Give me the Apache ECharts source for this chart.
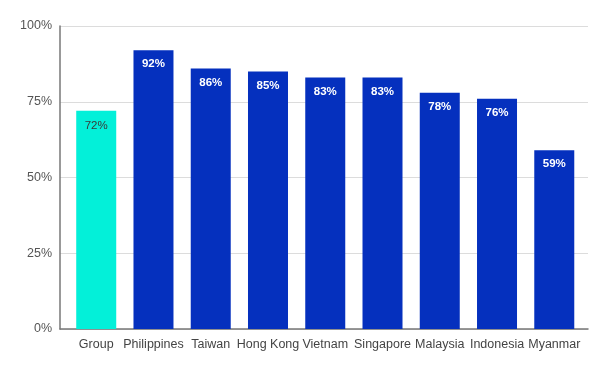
<!DOCTYPE html>
<html><head><meta charset="utf-8">
<script src="https://cdn.jsdelivr.net/npm/echarts@6/dist/echarts.min.js"></script>
<style>html,body{margin:0;padding:0;background:#fff}#c{width:600px;height:368px}</style>
</head><body><div id="c"></div>
<script>
const categories = ["Group","Philippines","Taiwan","Hong Kong","Vietnam","Singapore","Malaysia","Indonesia","Myanmar"];
const values = [72,92,86,85,83,83,78,76,59];
const yTicks = [0,25,50,75,100];
const groupColor = "#03F0D9";
const countryColor = "#0530BE";

const chart = echarts.init(document.getElementById('c'));
const font = "Arial, 'Liberation Sans', sans-serif";
chart.setOption({
  animation:false,
  grid:[
    {left:60, right:12, top:26, bottom:39},
    {left:67.6, width:515.3, top:26, bottom:39}
  ],
  xAxis:[
    {gridIndex:0, type:'value', min:0, max:1, show:true,
     axisLine:{show:true, onZero:false, lineStyle:{color:'#777', width:1.5}},
     axisTick:{show:false}, axisLabel:{show:false}, splitLine:{show:false}},
    {gridIndex:1, type:'category', data:categories,
     axisLine:{show:false}, axisTick:{show:false},
     axisLabel:{color:'#444', fontSize:12.5, fontFamily:font, margin:9, interval:0, hideOverlap:false}}
  ],
  yAxis:[
    {gridIndex:0, type:'value', min:yTicks[0], max:yTicks[yTicks.length-1], interval:25,
     axisLine:{show:true, lineStyle:{color:'#777', width:1.5}},
     axisTick:{show:false},
     axisLabel:{color:'#555', fontSize:12.5, fontFamily:font, margin:8, formatter:v=>v+'%'},
     splitLine:{lineStyle:{color:'#dcdcdc', width:1}}},
    {gridIndex:1, type:'value', min:0, max:100, show:false}
  ],
  series:[{
    type:'bar', xAxisIndex:1, yAxisIndex:1, barWidth:40,
    data: values.map((v,i)=>({value:v,
      itemStyle:{color: i===0?groupColor:countryColor},
      label:{color: i===0?'#3a3a3a':'#fff', fontWeight: i===0?'normal':'bold', distance: i===0?9:8}})),
    label:{show:true, position:'insideTop', fontSize:11.5, fontFamily:font,
      formatter:p=>p.value+'%'}
  }]
});
</script></body></html>
